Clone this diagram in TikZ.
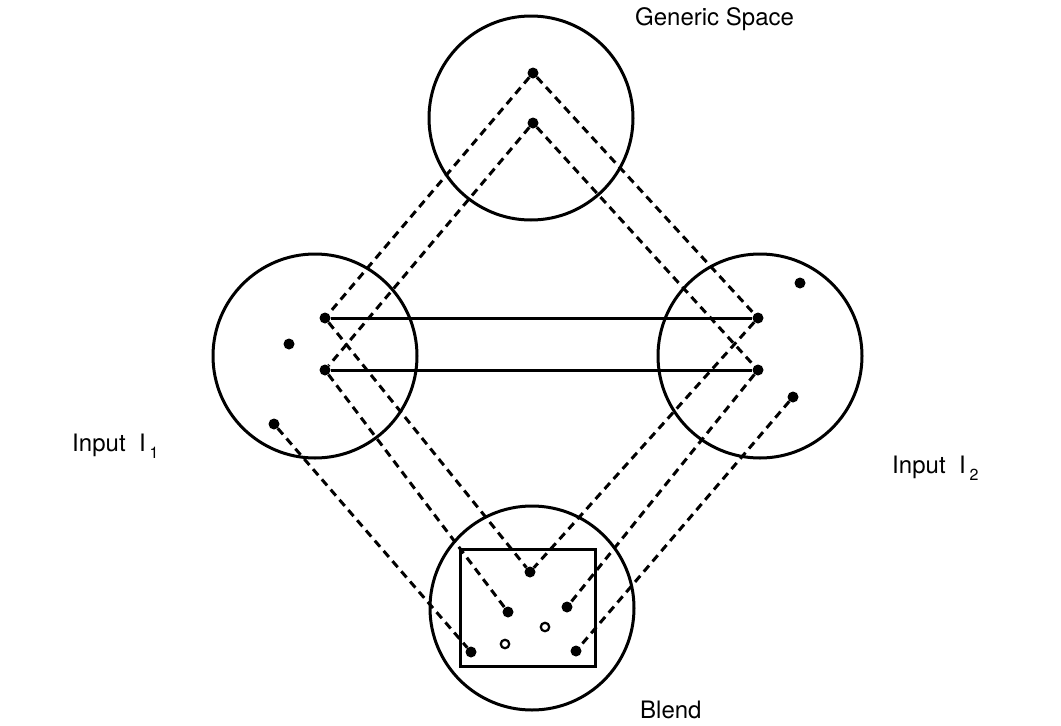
\documentclass[tikz,border=0pt]{standalone}
\usepackage{fontspec}
\setmainfont{TeX Gyre Heros}
\usetikzlibrary{positioning}

\tikzset{
  space/.style={circle, draw, line width=3pt, minimum size=204pt, inner sep=0pt},
  dot/.style={circle, fill=black, inner sep=0pt, minimum size=11pt},
  opendot/.style={circle, draw, line width=2.2pt, fill=white, inner sep=0pt, minimum size=8.5pt},
  mapline/.style={line width=3pt, dash pattern=on 8pt off 5.5pt},
  link/.style={line width=3pt},
  caption/.style={font=\fontsize{24}{28}\selectfont, inner sep=0pt}
}
\newcommand{\subnum}[1]{\,\raisebox{-7pt}{\fontsize{16}{16}\selectfont #1}}

\begin{document}
\begin{tikzpicture}[x=1pt, y=-1pt]
  \useasboundingbox (0,0) rectangle (1061,726);

  % the four spaces
  \node[space] (generic) at (531,118) {};
  \node[space] (inputa) at (315,356) {};
  \node[space] (inputb) at (760,356) {};
  \node[space] (blend) at (532,608) {};
  \draw[line width=3pt] (460,549) rectangle (595,666);

  % elements
  \node[dot] (g1) at (533,73) {};
  \node[dot] (g2) at (533,123) {};
  \node[dot] (a1) at (325,318) {};
  \node[dot] (a2) at (325,370) {};
  \node[dot] (a3) at (289,344) {};
  \node[dot] (a4) at (274,424) {};
  \node[dot] (b1) at (758,318) {};
  \node[dot] (b2) at (758,370) {};
  \node[dot] (b3) at (800,283) {};
  \node[dot] (b4) at (793,397) {};
  \node[dot] (m1) at (530,572) {};
  \node[dot] (m2) at (508,612) {};
  \node[dot] (m3) at (567,607) {};
  \node[dot] (m4) at (471,652) {};
  \node[dot] (m5) at (576,651) {};
  \node[opendot] (m6) at (505,644) {};
  \node[opendot] (m7) at (545,627) {};

  % cross-space links
  \draw[link] (a1) -- (b1);
  \draw[link] (a2) -- (b2);

  % projections
  \draw[mapline] (g1) -- (a1);
  \draw[mapline] (g1) -- (b1);
  \draw[mapline] (g2) -- (a2);
  \draw[mapline] (g2) -- (b2);
  \draw[mapline] (a1) -- (m1);
  \draw[mapline] (b1) -- (m1);
  \draw[mapline] (a2) -- (m2);
  \draw[mapline] (b2) -- (m3);
  \draw[mapline] (a4) -- (m4);
  \draw[mapline] (b4) -- (m5);

  % labels
  \node[caption, anchor=west] (lgeneric) at (635,19) {Generic Space};
  \node[caption, anchor=west] (linputa) at (72,446) {Input\ \ I\subnum{1}};
  \node[caption, anchor=west] (linputb) at (892,468) {Input\ \ I\subnum{2}};
  \node[caption, anchor=west] (lblend) at (640,710) {Blend};
\end{tikzpicture}
\end{document}
